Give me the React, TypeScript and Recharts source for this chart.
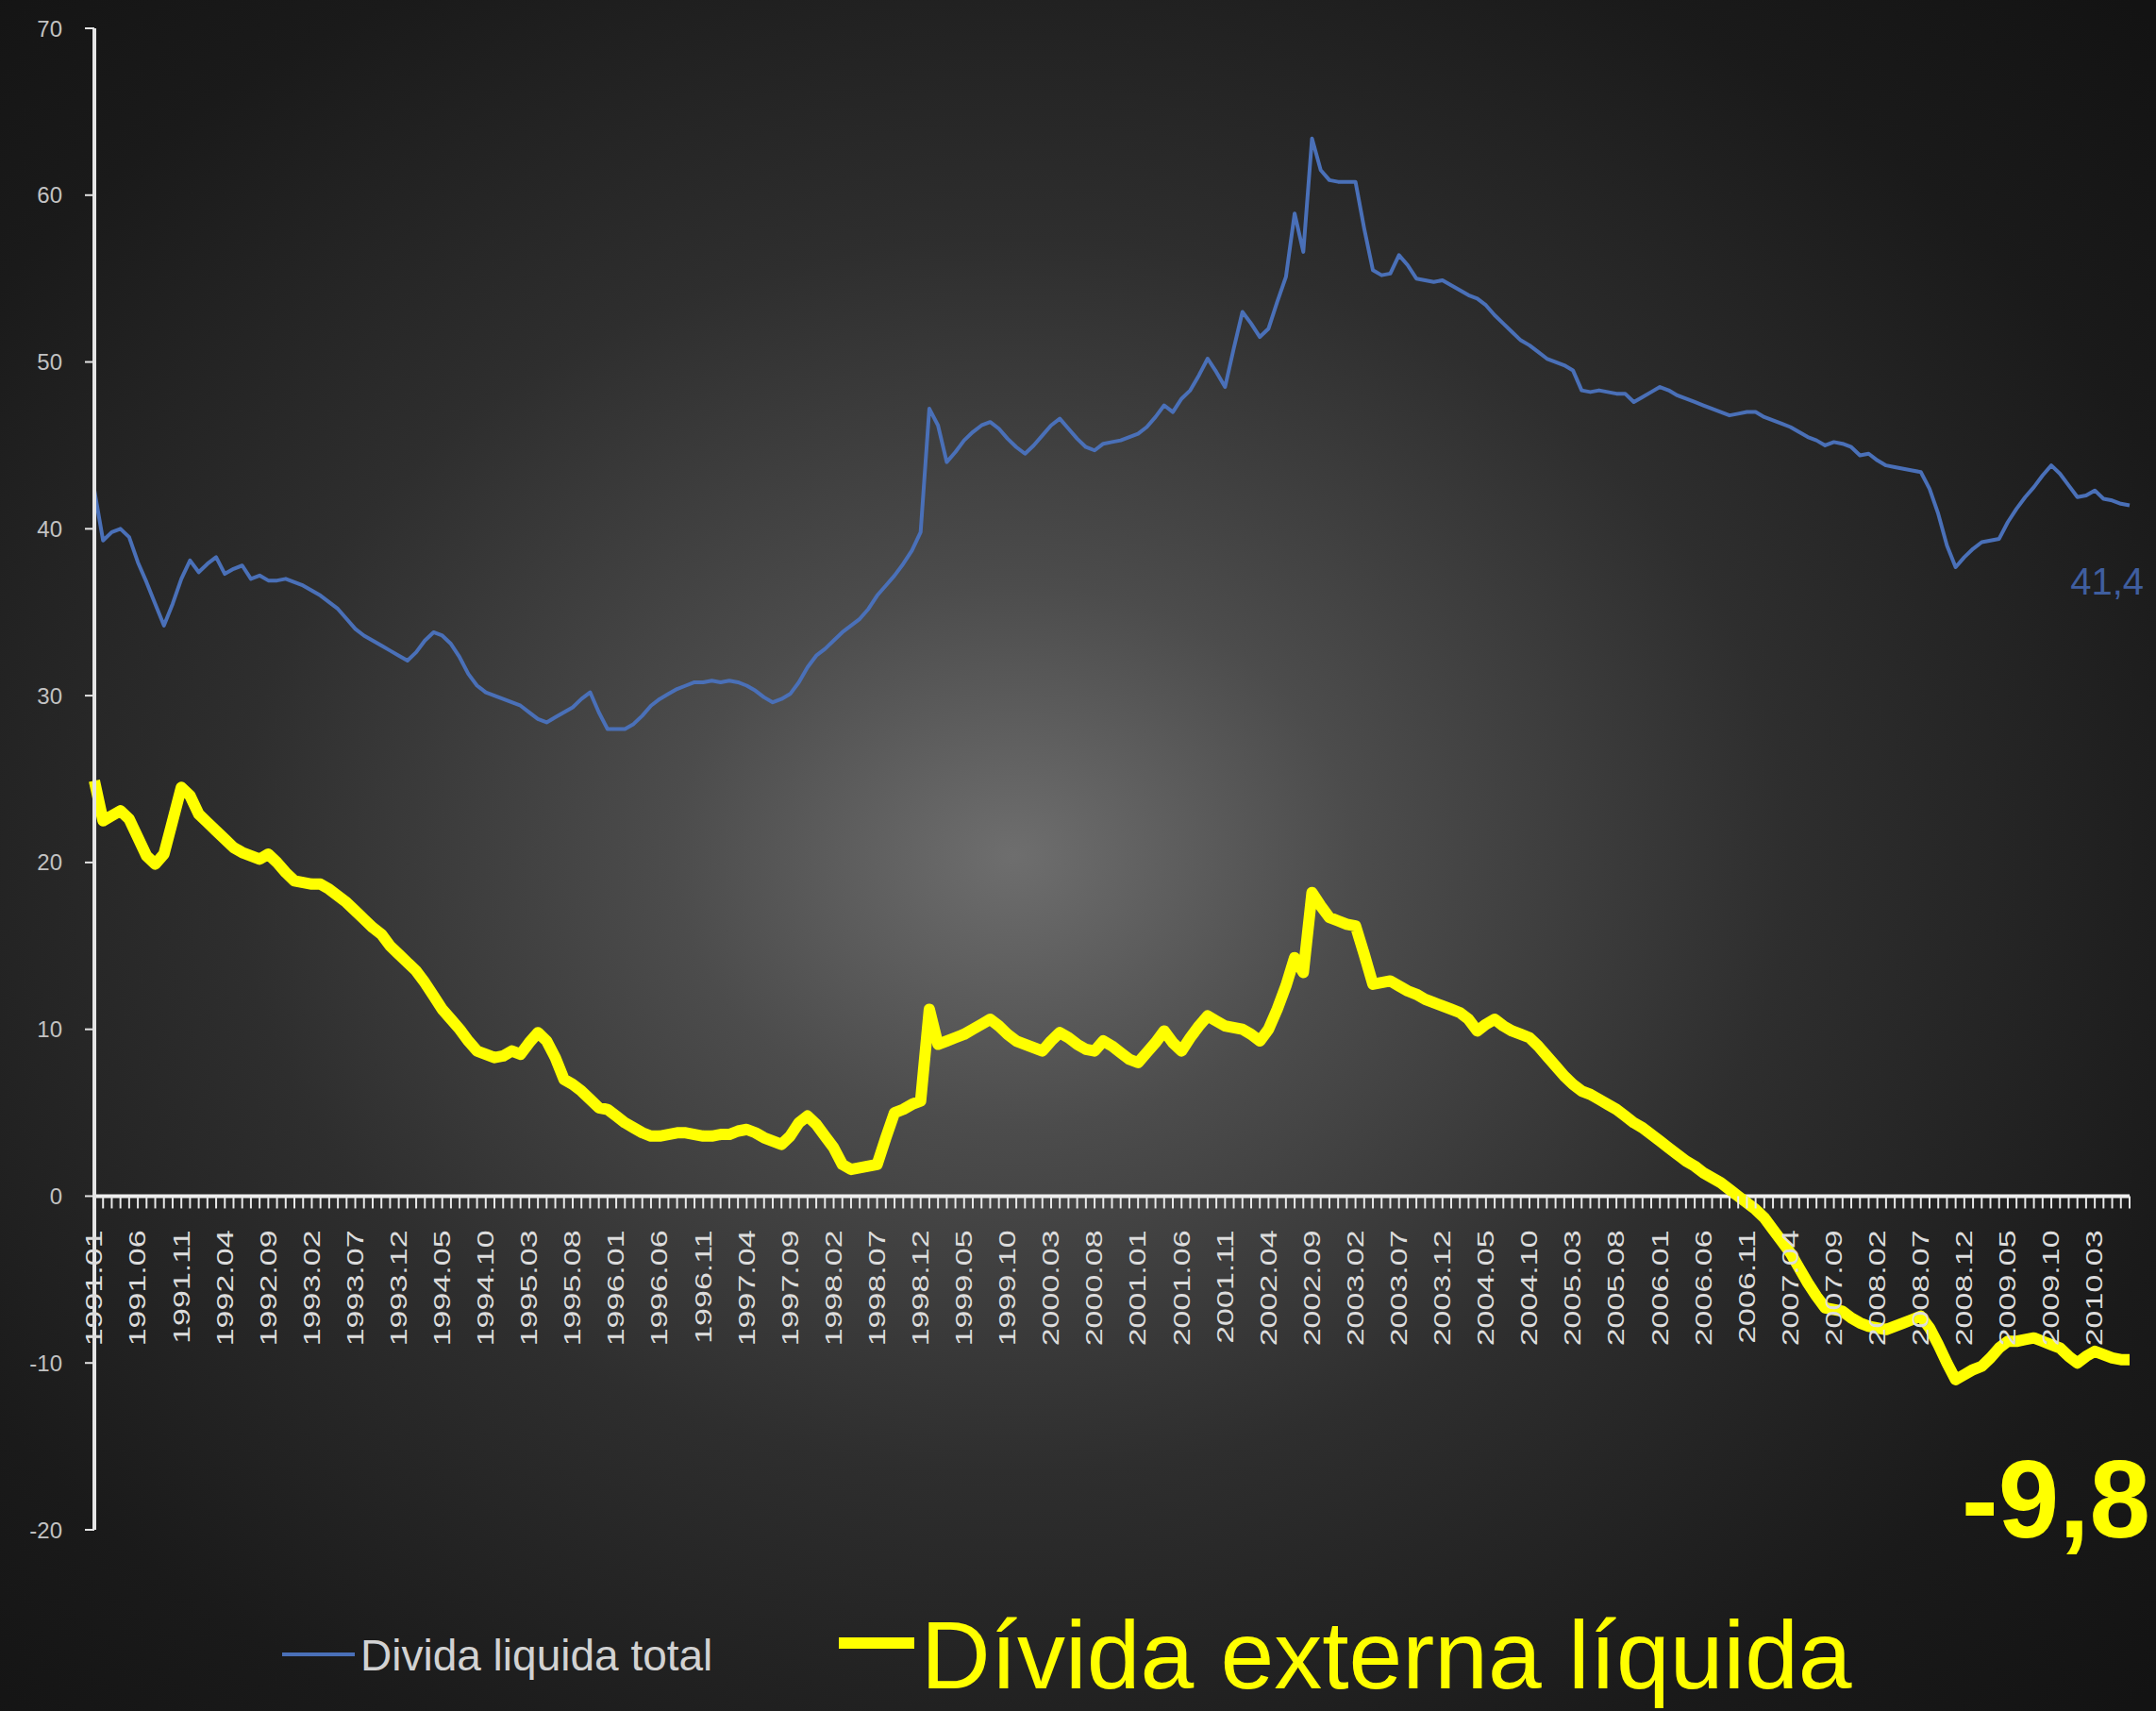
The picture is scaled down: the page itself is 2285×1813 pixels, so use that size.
import React from 'react';
import { LineChart, Line, XAxis, YAxis, ReferenceLine, Legend, LabelList } from 'recharts';

// ---------- DATA ----------
const START_YEAR = 1991;
const MONTH_COUNT = 235; // 1991.01 .. 2010.07

const categories: string[] = Array.from({ length: MONTH_COUNT }, (_, i) => {
  const y = START_YEAR + Math.floor(i / 12);
  const m = (i % 12) + 1;
  return `${y}.${m < 10 ? '0' + m : m}`;
});

const tickLabels: string[] = [
  '1991.01', '1991.06', '1991.11', '1992.04', '1992.09', '1993.02', '1993.07', '1993.12',
  '1994.05', '1994.10', '1995.03', '1995.08', '1996.01', '1996.06', '1996.11', '1997.04',
  '1997.09', '1998.02', '1998.07', '1998.12', '1999.05', '1999.10', '2000.03', '2000.08',
  '2001.01', '2001.06', '2001.11', '2002.04', '2002.09', '2003.02', '2003.07', '2003.12',
  '2004.05', '2004.10', '2005.03', '2005.08', '2006.01', '2006.06', '2006.11', '2007.04',
  '2007.09', '2008.02', '2008.07', '2008.12', '2009.05', '2009.10', '2010.03',
];

const yTicks: number[] = [-20, -10, 0, 10, 20, 30, 40, 50, 60, 70];

// Dívida líquida total (% PIB)
const dividaTotal: number[] = [
  42.3, 39.3, 39.8, 40.0, 39.5, 38.0, 36.8, 35.5, 34.2, 35.5,
  37.0, 38.1, 37.4, 37.9, 38.3, 37.3, 37.6, 37.8, 37.0, 37.2,
  36.9, 36.9, 37.0, 36.8, 36.6, 36.3, 36.0, 35.6, 35.2, 34.6,
  34.0, 33.6, 33.3, 33.0, 32.7, 32.4, 32.1, 32.6, 33.3, 33.8,
  33.6, 33.1, 32.3, 31.3, 30.6, 30.2, 30.0, 29.8, 29.6, 29.4,
  29.0, 28.6, 28.4, 28.7, 29.0, 29.3, 29.8, 30.2, 29.0, 28.0,
  28.0, 28.0, 28.3, 28.8, 29.4, 29.8, 30.1, 30.4, 30.6, 30.8,
  30.8, 30.9, 30.8, 30.9, 30.8, 30.6, 30.3, 29.9, 29.6, 29.8,
  30.1, 30.8, 31.7, 32.4, 32.8, 33.3, 33.8, 34.2, 34.6, 35.2,
  36.0, 36.6, 37.2, 37.9, 38.7, 39.8, 47.2, 46.2, 44.0, 44.6,
  45.3, 45.8, 46.2, 46.4, 46.0, 45.4, 44.9, 44.5, 45.0, 45.6,
  46.2, 46.6, 46.0, 45.4, 44.9, 44.7, 45.1, 45.2, 45.3, 45.5,
  45.7, 46.1, 46.7, 47.4, 47.0, 47.8, 48.3, 49.2, 50.2, 49.4,
  48.5, 50.8, 53.0, 52.3, 51.5, 52.0, 53.6, 55.1, 58.9, 56.6,
  63.4, 61.5, 60.9, 60.8, 60.8, 60.8, 58.0, 55.5, 55.2, 55.3,
  56.4, 55.8, 55.0, 54.9, 54.8, 54.9, 54.6, 54.3, 54.0, 53.8,
  53.4, 52.8, 52.3, 51.8, 51.3, 51.0, 50.6, 50.2, 50.0, 49.8,
  49.5, 48.3, 48.2, 48.3, 48.2, 48.1, 48.1, 47.6, 47.9, 48.2,
  48.5, 48.3, 48.0, 47.8, 47.6, 47.4, 47.2, 47.0, 46.8, 46.9,
  47.0, 47.0, 46.7, 46.5, 46.3, 46.1, 45.8, 45.5, 45.3, 45.0,
  45.2, 45.1, 44.9, 44.4, 44.5, 44.1, 43.8, 43.7, 43.6, 43.5,
  43.4, 42.4, 40.9, 39.0, 37.7, 38.3, 38.8, 39.2, 39.3, 39.4,
  40.4, 41.2, 41.9, 42.5, 43.2, 43.8, 43.3, 42.6, 41.9, 42.0,
  42.3, 41.8, 41.7, 41.5, 41.4,
];

// Dívida externa líquida (% PIB)
const dividaExterna: number[] = [
  24.9, 22.5, 22.8, 23.1, 22.6, 21.5, 20.4, 19.9, 20.5, 22.5,
  24.5, 24.0, 22.9, 22.4, 21.9, 21.4, 20.9, 20.6, 20.4, 20.2,
  20.5, 20.0, 19.4, 18.9, 18.8, 18.7, 18.7, 18.4, 18.0, 17.6,
  17.1, 16.6, 16.1, 15.7, 15.0, 14.5, 14.0, 13.5, 12.8, 12.0,
  11.2, 10.6, 10.0, 9.3, 8.7, 8.5, 8.3, 8.4, 8.7, 8.5,
  9.2, 9.8, 9.3, 8.3, 7.0, 6.7, 6.3, 5.8, 5.3, 5.2,
  4.8, 4.4, 4.1, 3.8, 3.6, 3.6, 3.7, 3.8, 3.8, 3.7,
  3.6, 3.6, 3.7, 3.7, 3.9, 4.0, 3.8, 3.5, 3.3, 3.1,
  3.6, 4.4, 4.8, 4.3, 3.6, 2.9, 1.9, 1.6, 1.7, 1.8,
  1.9, 3.5, 5.0, 5.2, 5.5, 5.7, 11.2, 9.1, 9.3, 9.5,
  9.7, 10.0, 10.3, 10.6, 10.2, 9.7, 9.3, 9.1, 8.9, 8.7,
  9.3, 9.8, 9.5, 9.1, 8.8, 8.7, 9.3, 9.0, 8.6, 8.2,
  8.0, 8.6, 9.2, 9.9, 9.2, 8.7, 9.5, 10.2, 10.8, 10.5,
  10.2, 10.1, 10.0, 9.7, 9.3, 10.0, 11.2, 12.6, 14.3, 13.4,
  18.2, 17.4, 16.7, 16.5, 16.3, 16.2, 14.5, 12.7, 12.8, 12.9,
  12.6, 12.3, 12.1, 11.8, 11.6, 11.4, 11.2, 11.0, 10.6, 9.9,
  10.3, 10.6, 10.2, 9.9, 9.7, 9.5, 9.0, 8.4, 7.8, 7.2,
  6.7, 6.3, 6.1, 5.8, 5.5, 5.2, 4.8, 4.4, 4.1, 3.7,
  3.3, 2.9, 2.5, 2.1, 1.8, 1.4, 1.1, 0.8, 0.4, 0.0,
  -0.4, -0.8, -1.3, -2.0, -2.7, -3.4, -4.3, -5.2, -6.0, -6.7,
  -6.8, -6.9, -7.3, -7.6, -7.8, -7.9, -8.0, -7.8, -7.6, -7.4,
  -7.2, -7.9, -8.9, -10.0, -11.0, -10.7, -10.4, -10.2, -9.7, -9.1,
  -8.7, -8.7, -8.6, -8.5, -8.7, -8.9, -9.1, -9.6, -10.0, -9.6,
  -9.3, -9.5, -9.7, -9.8, -9.8,
];

const data = categories.map((month, i) => ({
  month,
  total: dividaTotal[i],
  externa: dividaExterna[i],
}));

// ---------- LAYOUT ----------
const W = 2285;
const H = 1813;
const MARGIN = { top: 30, right: 28, bottom: 162, left: 0 };
const XAXIS_H = 30;
const Y_MIN = -20;
const Y_MAX = 70;
const PLOT_TOP = MARGIN.top;
const PLOT_BOTTOM = H - MARGIN.bottom - XAXIS_H;
const ZERO_Y = PLOT_TOP + ((Y_MAX - 0) / (Y_MAX - Y_MIN)) * (PLOT_BOTTOM - PLOT_TOP);
const FONT = '"Liberation Sans", Arial, sans-serif';
const labelSet = new Set(tickLabels);
const LAST = MONTH_COUNT - 1;

const fmt = (v: number) => v.toFixed(1).replace('.', ',');

const MonthTick = (props: any) => {
  const { x, payload } = props;
  const label = payload && payload.value;
  return (
    <g>
      <line x1={x} x2={x} y1={ZERO_Y} y2={ZERO_Y + 13} stroke="#e8e8e8" strokeWidth={2} />
      {labelSet.has(label) && (
        <text
          transform={`translate(${x},${ZERO_Y + 36}) rotate(-90) scale(1,0.68)`}
          textAnchor="end"
          dy="0.36em"
          fill="#dcdcdc"
          fontSize={34}
          fontFamily={FONT}
        >
          {label}
        </text>
      )}
    </g>
  );
};

const TotalEndLabel = (props: any) => {
  const { x, y, value, index } = props;
  if (index !== LAST) return null;
  return (
    <text x={x + 15} y={y + 94} textAnchor="end" fontSize={40} fill="#3f5e9f" fontFamily={FONT}>
      {fmt(Number(value))}
    </text>
  );
};

const ExternaEndLabel = (props: any) => {
  const { x, y, value, index } = props;
  if (index !== LAST) return null;
  return (
    <text x={x + 22} y={y + 188} textAnchor="end" fontSize={116} fontWeight="bold" fill="#ffff00" fontFamily={FONT}>
      {fmt(Number(value))}
    </text>
  );
};

const LegendContent = (props: any) => {
  const payload: any[] = props.payload || [];
  const total = payload.find((p) => p.dataKey === 'total');
  const ext = payload.find((p) => p.dataKey === 'externa');
  return (
    <svg width={W} height={163} style={{ display: 'block', overflow: 'visible' }}>
      {total && (
        <g>
          <line x1={299} x2={376} y1={103} y2={103} stroke={total.color} strokeWidth={4} />
          <text x={382} y={120} fontSize={46} fill="#d2d2d2" fontFamily={FONT}>
            {total.value}
          </text>
        </g>
      )}
      {ext && (
        <g>
          <line x1={889} x2={969} y1={91} y2={91} stroke={ext.color} strokeWidth={12} />
          <text x={976} y={139} fontSize={102} fill="#ffff00" fontFamily={FONT}>
            {ext.value}
          </text>
        </g>
      )}
    </svg>
  );
};

export default function App() {
  return (
    <div
      style={{
        position: 'absolute',
        left: 0,
        top: 0,
        width: W,
        height: H,
        overflow: 'hidden',
        background:
          'radial-gradient(ellipse 72% 72% at 47% 50%, #6e6e6e 0%, #4c4c4c 22%, #2e2e2e 50%, #1a1a1a 80%, #131313 100%)',
      }}
    >
      <LineChart width={W} height={H} data={data} margin={MARGIN}>
        <XAxis
          dataKey="month"
          interval={0}
          height={XAXIS_H}
          axisLine={false}
          tickLine={false}
          tick={<MonthTick />}
        />
        <YAxis
          domain={[Y_MIN, Y_MAX]}
          ticks={yTicks}
          width={100}
          axisLine={{ stroke: '#e4e4e4', strokeWidth: 4 }}
          tickLine={{ stroke: '#e4e4e4', strokeWidth: 2 }}
          tickSize={10}
          tickMargin={24}
          tick={{ fill: '#c2c2c2', fontSize: 24, fontFamily: FONT }}
          allowDataOverflow
        />
        <ReferenceLine y={0} stroke="#f0f0f0" strokeWidth={4} ifOverflow="extendDomain" />
        <Line
          type="linear"
          dataKey="total"
          name="Divida liquida total"
          stroke="#4a70b8"
          strokeWidth={4}
          strokeLinejoin="round"
          dot={false}
          activeDot={false}
          isAnimationActive={false}
        >
          <LabelList dataKey="total" content={<TotalEndLabel />} />
        </Line>
        <Line
          type="linear"
          dataKey="externa"
          name="Dívida externa líquida"
          stroke="#ffff00"
          strokeWidth={12}
          strokeLinejoin="round"
          dot={false}
          activeDot={false}
          isAnimationActive={false}
        >
          <LabelList dataKey="externa" content={<ExternaEndLabel />} />
        </Line>
        <Legend
          layout="horizontal"
          verticalAlign="middle"
          align="center"
          wrapperStyle={{ position: 'absolute', left: 0, top: 1650, width: W, height: 163 }}
          content={<LegendContent />}
        />
      </LineChart>
    </div>
  );
}
